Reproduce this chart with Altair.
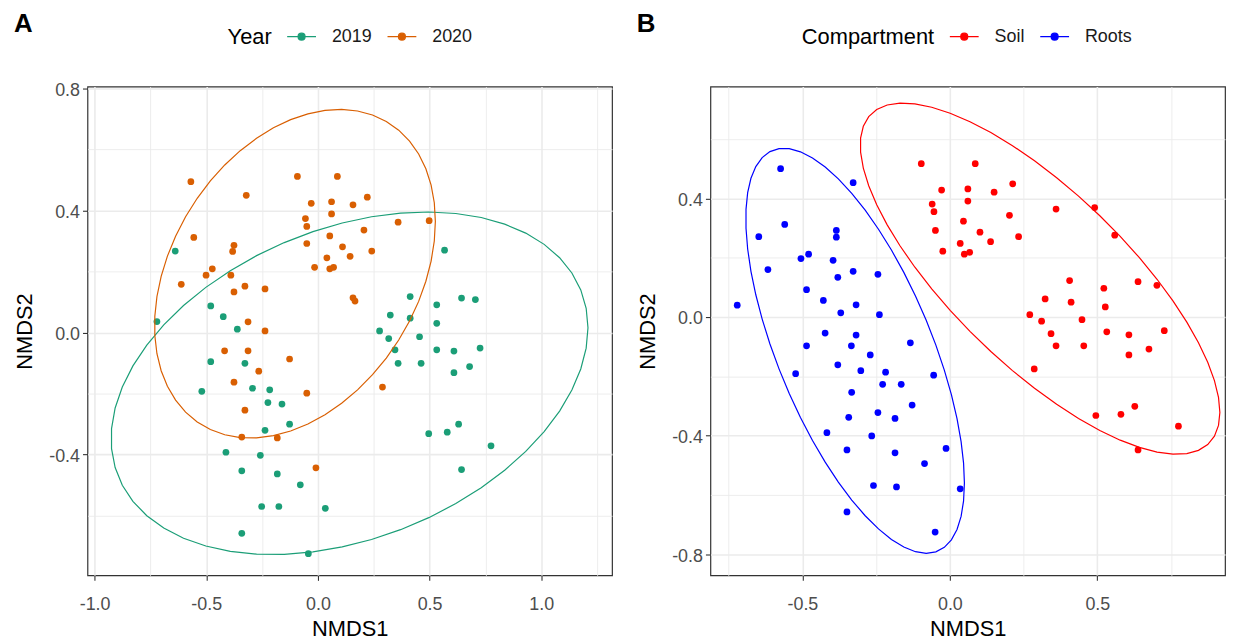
import numpy as np
import pandas as pd
import altair as alt

# ---------------- Panel A data (NMDS by Year) ----------------
a2019_x = [-0.639, -0.480, -0.424, -0.361, -0.721, 0.567, 0.413, 0.643, 0.705, 0.532, 0.324, 0.413,
           0.532, 0.276, 0.317, 0.455, 0.345, 0.532, 0.609, 0.726, 0.359, 0.462, 0.609, 0.679, 0.496,
           0.579, 0.630, 0.775, 0.643, -0.480, -0.327, -0.520, -0.293, -0.216, -0.224, -0.161, -0.127,
           -0.237, -0.412, -0.258, -0.341, -0.182, -0.079, -0.252, -0.175, 0.033, -0.341, -0.043]
a2019_y = [0.267, 0.087, 0.052, 0.011, 0.036, 0.270, 0.118, 0.113, 0.108, 0.091, 0.057, 0.047,
           0.030, 0.005, -0.020, -0.014, -0.057, -0.057, -0.061, -0.051, -0.101, -0.101, -0.132, -0.112, -0.332,
           -0.327, -0.301, -0.372, -0.450, -0.096, -0.101, -0.193, -0.183, -0.188, -0.230, -0.235, -0.301,
           -0.321, -0.393, -0.403, -0.454, -0.464, -0.500, -0.571, -0.571, -0.577, -0.659, -0.726]
a2020_x = [-0.569, -0.092, 0.087, -0.321, -0.030, 0.061, 0.157, 0.061, -0.056, -0.050, -0.556, -0.376,
           -0.382, -0.050, 0.053, 0.110, 0.144, 0.040, -0.015, 0.053, 0.070, -0.473, -0.501, -0.390,
           -0.612, -0.327, -0.376, -0.237, 0.157, 0.166, -0.313, -0.237, 0.221, 0.359, 0.498, 0.206,
           0.241, -0.418, -0.313, -0.127, -0.265, -0.376, -0.050, -0.327, -0.341, -0.182, -0.009, 0.289]
a2020_y = [0.495, 0.512, 0.512, 0.450, 0.424, 0.429, 0.419, 0.389, 0.374, 0.348, 0.312, 0.286,
           0.266, 0.292, 0.317, 0.281, 0.250, 0.245, 0.214, 0.209, 0.214, 0.209, 0.188, 0.188,
           0.158, 0.152, 0.133, 0.143, 0.114, 0.103, 0.035, 0.005, 0.444, 0.362, 0.367, 0.336,
           0.267, -0.060, -0.060, -0.087, -0.127, -0.163, -0.199, -0.255, -0.343, -0.346, -0.444, -0.179]

# ---------------- Panel B data (NMDS by Compartment) ----------------
soil_x = [-0.097, 0.086, -0.028, 0.061, 0.150, 0.213, 0.061, -0.060, -0.054, 0.046, 0.202, -0.049,
          0.102, 0.233, 0.035, 0.138, -0.024, 0.049, 0.067, 0.360, 0.491, 0.559, 0.406, 0.522,
          0.638, 0.702, 0.323, 0.411, 0.527, 0.271, 0.311, 0.448, 0.343, 0.532, 0.607, 0.727,
          0.360, 0.454, 0.675, 0.607, 0.286, 0.495, 0.580, 0.627, 0.775, 0.638]
soil_y = [0.517, 0.517, 0.428, 0.432, 0.421, 0.449, 0.391, 0.381, 0.355, 0.323, 0.343, 0.292,
          0.286, 0.271, 0.248, 0.254, 0.222, 0.212, 0.218, 0.364, 0.369, 0.276, 0.123, 0.097,
          0.119, 0.107, 0.061, 0.050, 0.034, 0.008, -0.014, -0.009, -0.056, -0.050, -0.060, -0.046,
          -0.097, -0.097, -0.108, -0.128, -0.175, -0.332, -0.328, -0.301, -0.368, -0.448]
roots_x = [-0.574, -0.328, -0.560, -0.648, -0.385, -0.385, -0.505, -0.479, -0.396, -0.617, -0.328, -0.380,
           -0.244, -0.486, -0.429, -0.318, -0.370, -0.239, -0.721, -0.423, -0.318, -0.486, -0.334, -0.134,
           -0.270, -0.380, -0.523, -0.302, -0.218, -0.055, -0.228, -0.165, -0.333, -0.128, -0.343, -0.244,
           -0.186, -0.417, -0.265, -0.349, -0.186, -0.013, -0.086, -0.259, -0.181, 0.035, -0.349, -0.050]
roots_y = [0.500, 0.453, 0.312, 0.271, 0.292, 0.269, 0.197, 0.212, 0.191, 0.160, 0.154, 0.134,
           0.144, 0.092, 0.056, 0.041, 0.014, 0.008, 0.040, -0.054, -0.061, -0.097, -0.097, -0.087,
           -0.128, -0.161, -0.191, -0.181, -0.186, -0.196, -0.227, -0.227, -0.254, -0.297, -0.338, -0.322,
           -0.342, -0.390, -0.401, -0.448, -0.458, -0.443, -0.494, -0.568, -0.573, -0.579, -0.657, -0.725]

year_levels = ["2019", "2020"]
year_colors = ["#1B9E77", "#D95F02"]
comp_levels = ["Soil", "Roots"]
comp_colors = ["#FF0000", "#0000FF"]


# ---------------- stat_ellipse (type = "t", level = 0.95) ----------------
def cov_trob(X, nu=5, maxit=25, tol=0.01):
    n, p = X.shape
    wt = np.ones(n)
    loc = X.mean(axis=0)
    w = np.sqrt(wt)
    Xc = X - loc
    for _ in range(maxit):
        w0 = w
        Xc = X - loc
        U, d, Vt = np.linalg.svd(np.sqrt(w / w.sum())[:, None] * Xc, full_matrices=False)
        wX = Xc @ Vt.T @ np.diag(1.0 / d)
        Q = (wX ** 2).sum(axis=1)
        w = (wt * (nu + p)) / (nu + Q)
        loc = (w[:, None] * X).sum(axis=0) / w.sum()
        if np.all(np.abs(w - w0) < tol):
            break
    cov = (np.sqrt(w)[:, None] * Xc).T @ (np.sqrt(w)[:, None] * Xc) / wt.sum()
    return loc, cov


def stat_ellipse(xs, ys, level=0.95, segments=51):
    X = np.column_stack([xs, ys]).astype(float)
    center, shape = cov_trob(X)
    dfd = len(xs) - 1
    fq = dfd / 2.0 * ((1.0 - level) ** (-2.0 / dfd) - 1.0)   # qf(level, 2, dfd)
    radius = np.sqrt(2.0 * fq)
    R = np.linalg.cholesky(shape).T
    ang = np.arange(segments + 1) * 2 * np.pi / segments
    circ = np.column_stack([np.cos(ang), np.sin(ang)])
    ell = center + radius * (circ @ R)
    return ell[:, 0], ell[:, 1]


def build(groups):
    pts, ells = [], []
    for name, xs, ys in groups:
        pts.append(pd.DataFrame({"x": xs, "y": ys, "g": name}))
        ex, ey = stat_ellipse(xs, ys)
        ells.append(pd.DataFrame({"x": ex, "y": ey, "g": name, "o": np.arange(len(ex))}))
    return pd.concat(pts, ignore_index=True), pd.concat(ells, ignore_index=True)


ptsA, ellA = build([("2019", a2019_x, a2019_y), ("2020", a2020_x, a2020_y)])
ptsB, ellB = build([("Soil", soil_x, soil_y), ("Roots", roots_x, roots_y)])

FONT = "Liberation Sans"
SYMBOL = "M-1,0H1M-0.24,0A0.24,0.24,0,1,1,0.24,0A0.24,0.24,0,1,1,-0.24,0Z"


def is_major(step):
    return f"abs(datum.value / {step} - round(datum.value / {step})) < 1e-6"


def make_axis(values, step, title, orient):
    major = is_major(step)
    return alt.Axis(
        values=values,
        title=title,
        labelExpr=f"{major} ? (datum.value < 0 ? '-' + format(-datum.value, '.1f') : format(datum.value, '.1f')) : ''",
        tickOpacity={"condition": {"test": major, "value": 1}, "value": 0},
        gridWidth={"condition": {"test": major, "value": 1.6}, "value": 0.9},
        gridColor="#EBEBEB",
        domain=False,
        tickColor="#333333",
        tickSize=5,
        tickWidth=1.1,
        labelFont=FONT,
        labelFontSize=18,
        labelColor="#4D4D4D",
        labelPadding=15 if orient == "bottom" else 3,
        labelOffset=0 if orient == "bottom" else 2,
        labelFlush=False,
        labelOverlap=False,
        titleFont=FONT,
        titleFontSize=22,
        titleFontWeight="normal",
        titleColor="#000000",
        titlePadding=6 if orient == "bottom" else 12,
    )


def panel(pts, ell, levels, colors, legend_title, xdom, ydom, xvals, xstep, yvals, ystep,
          tag, legend_x, w, h):
    scale = alt.Scale(domain=levels, range=colors)
    legend = alt.Legend(
        title=legend_title,
        orient="none",
        legendX=legend_x,
        legendY=-66,
        direction="horizontal",
        titleOrient="left",
        titleAnchor="middle",
        titleBaseline="line-top",
        titleLineHeight=10,
        titleFont=FONT,
        titleFontSize=22,
        titleFontWeight="normal",
        titleColor="#000000",
        titlePadding=14,
        labelFont=FONT,
        labelFontSize=18,
        labelColor="#1A1A1A",
        labelOffset=15,
        columnPadding=12,
        symbolType=SYMBOL,
        symbolSize=841,
        symbolStrokeWidth=1.3,
    )
    x = alt.X("x:Q", scale=alt.Scale(domain=xdom, nice=False, zero=False),
              axis=make_axis(xvals, xstep, "NMDS1", "bottom"))
    y = alt.Y("y:Q", scale=alt.Scale(domain=ydom, nice=False, zero=False),
              axis=make_axis(yvals, ystep, "NMDS2", "left"))
    points = alt.Chart(pts).mark_point(filled=True, size=46, opacity=1, strokeWidth=0).encode(
        x=x, y=y,
        fill=alt.Fill("g:N", scale=scale, legend=legend),
        stroke=alt.Stroke("g:N", scale=scale, legend=legend),
    )
    lines = alt.Chart(ell).mark_line(strokeWidth=1.2, clip=True).encode(
        x=x, y=y,
        stroke=alt.Stroke("g:N", scale=scale, legend=legend),
        detail="g:N",
        order="o:Q",
    )
    return alt.layer(points, lines).properties(
        width=w, height=h,
        title=alt.TitleParams(tag, anchor="start", frame="bounds", font=FONT, fontSize=26,
                              fontWeight="bold", color="#000000", offset=-16),
    )


chartA = panel(ptsA, ellA, year_levels, year_colors, "Year",
               [-1.032, 1.317], [-0.797, 0.807],
               [-1.0, -0.75, -0.5, -0.25, 0.0, 0.25, 0.5, 0.75, 1.0, 1.25], 0.5,
               [-0.6, -0.4, -0.2, 0.0, 0.2, 0.4, 0.6, 0.8], 0.4,
               "A", 141, 528, 492)
chartB = panel(ptsB, ellB, comp_levels, comp_colors, "Compartment",
               [-0.812, 0.933], [-0.871, 0.777],
               [-0.75, -0.5, -0.25, 0.0, 0.25, 0.5, 0.75], 0.5,
               [-0.8, -0.6, -0.4, -0.2, 0.0, 0.2, 0.4, 0.6], 0.4,
               "B", 92, 518, 492)

chart = alt.hconcat(chartA, chartB, spacing=23).resolve_scale(
    fill="independent", stroke="independent"
).properties(
    padding={"left": 5, "top": 0, "right": 5, "bottom": 0}
).configure(
    background="white",
    view=alt.ViewConfig(stroke="#333333", strokeWidth=1.2),
)

chart.save("out.html", embed_options={"renderer": "svg", "actions": False})
